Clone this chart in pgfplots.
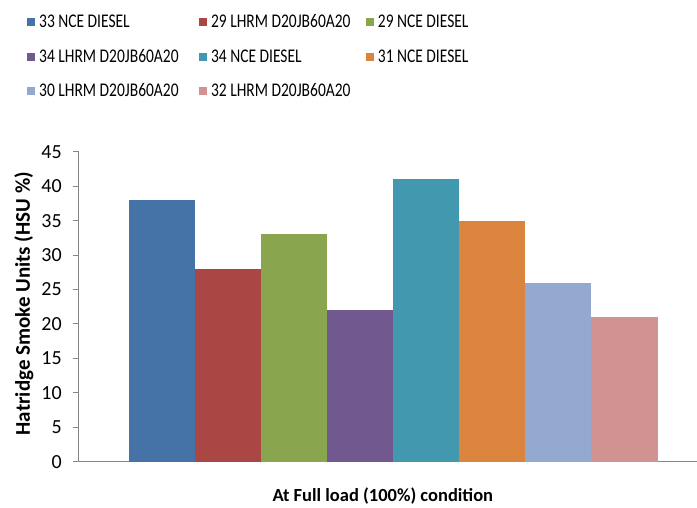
\documentclass[border=0pt]{standalone}
\usepackage{pgfplots}
\pgfplotsset{compat=1.18}
\usepackage{fontspec}
\setmainfont{Carlito}
\definecolor{c1}{HTML}{4572A7}
\definecolor{c2}{HTML}{AA4643}
\definecolor{c3}{HTML}{89A54E}
\definecolor{c4}{HTML}{71588F}
\definecolor{c5}{HTML}{4198AF}
\definecolor{c6}{HTML}{DB843D}
\definecolor{c7}{HTML}{93A9CF}
\definecolor{c8}{HTML}{D19392}
\definecolor{axgray}{HTML}{868686}
% legend text: a bit narrow and tall, as in the reference
\newcommand{\legtext}[2]{\makebox[#1][l]{\hspace*{2pt}\scalebox{1}[1.25]{#2}}}
\begin{document}
\begin{tikzpicture}
\begin{axis}[
    scale only axis,
    width=618pt, height=310pt,
    ybar=0pt, bar width=1, bar shift=0pt,
    xmin=-0.256, xmax=9.09,
    ymin=0, ymax=45, ytick={0,5,...,45},
    xtick=\empty,
    axis x line*=bottom, axis y line*=left,
    axis line style={axgray, line width=1pt, -},
    tick style={axgray, line width=1pt},
    major tick length=6pt, tick align=outside,
    font=\fontsize{20}{24}\selectfont,
    /pgf/number format/assume math mode=true,
    yticklabel style={inner sep=0pt, xshift=-11pt},
    ylabel={\fontsize{21}{25}\selectfont\bfseries Hatridge Smoke Units (HSU \%)},
    ylabel style={at={(axis description cs:-0.089,0.51)}, anchor=center},
    xlabel={\fontsize{18.5}{22}\selectfont\bfseries At Full load (100\%) condition},
    xlabel style={at={(axis description cs:0.492,-0.11)}, anchor=center},
    legend columns=3,
    legend cell align=left,
    legend style={at={(axis description cs:0,1)}, anchor=north west,
        xshift=-52pt, yshift=139.5pt, draw=none, row sep=16pt,
        inner sep=0pt, font=\fontsize{15.5}{19}\selectfont},
    legend image code/.code={\fill[#1] (0pt,-4pt) rectangle (8pt,4pt);},
]
\addplot[fill=c1, draw=none] coordinates {(1,38)};
\addlegendentry{\legtext{160pt}{33 NCE DIESEL}}
\addplot[fill=c2, draw=none] coordinates {(2,28)};
\addlegendentry{\legtext{155pt}{29 LHRM D20JB60A20}}
\addplot[fill=c3, draw=none] coordinates {(3,33)};
\addlegendentry{\legtext{130pt}{29 NCE DIESEL}}
\addplot[fill=c4, draw=none] coordinates {(4,22)};
\addlegendentry{\legtext{160pt}{34 LHRM D20JB60A20}}
\addplot[fill=c5, draw=none] coordinates {(5,41)};
\addlegendentry{\legtext{155pt}{34 NCE DIESEL}}
\addplot[fill=c6, draw=none] coordinates {(6,35)};
\addlegendentry{\legtext{130pt}{31 NCE DIESEL}}
\addplot[fill=c7, draw=none] coordinates {(7,26)};
\addlegendentry{\legtext{160pt}{30 LHRM D20JB60A20}}
\addplot[fill=c8, draw=none] coordinates {(8,21)};
\addlegendentry{\legtext{155pt}{32 LHRM D20JB60A20}}
\end{axis}
\useasboundingbox (current axis.south west) ++(-79pt,-45pt) rectangle ++(697pt,507pt);
\end{tikzpicture}
\end{document}
